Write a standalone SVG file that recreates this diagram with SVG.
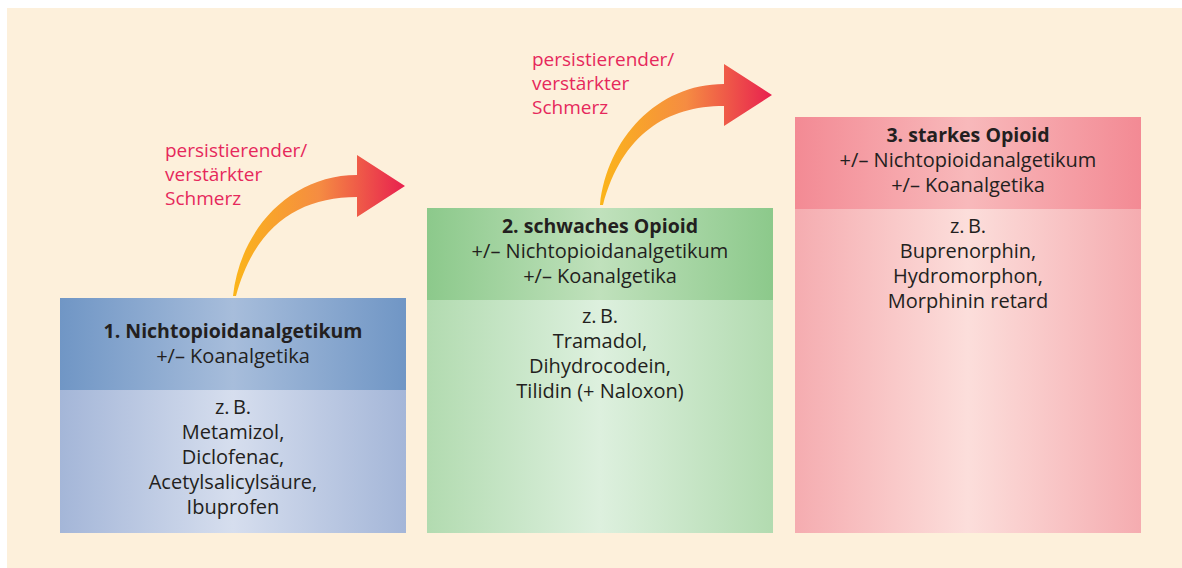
<svg xmlns="http://www.w3.org/2000/svg" width="1182" height="568" viewBox="0 0 1182 568">
<defs>
<style>
text{font-family:"Open Sans","Noto Sans","Liberation Sans",sans-serif;font-size:20px;fill:#231f20;text-anchor:middle}
.b{font-weight:bold;font-size:19.5px}
.lbl{fill:#e6285b;text-anchor:start;font-size:19px}
</style>
<linearGradient id="h1" x1="0" y1="0" x2="1" y2="0"><stop offset="0" stop-color="#7096c5"/><stop offset="0.5" stop-color="#a7bddb"/><stop offset="1" stop-color="#7096c5"/></linearGradient>
<linearGradient id="b1" x1="0" y1="0" x2="1" y2="0"><stop offset="0" stop-color="#a4b6d8"/><stop offset="0.5" stop-color="#d6deee"/><stop offset="1" stop-color="#a4b6d8"/></linearGradient>
<linearGradient id="h2" x1="0" y1="0" x2="1" y2="0"><stop offset="0" stop-color="#8cc98b"/><stop offset="0.5" stop-color="#c0e1bc"/><stop offset="1" stop-color="#8cc98b"/></linearGradient>
<linearGradient id="b2" x1="0" y1="0" x2="1" y2="0"><stop offset="0" stop-color="#b2dbb0"/><stop offset="0.5" stop-color="#ddf0de"/><stop offset="1" stop-color="#b2dbb0"/></linearGradient>
<linearGradient id="h3" x1="0" y1="0" x2="1" y2="0"><stop offset="0" stop-color="#f38a94"/><stop offset="0.5" stop-color="#f8b9bb"/><stop offset="1" stop-color="#f38a94"/></linearGradient>
<linearGradient id="b3" x1="0" y1="0" x2="1" y2="0"><stop offset="0" stop-color="#f5acb0"/><stop offset="0.5" stop-color="#fcdedb"/><stop offset="1" stop-color="#f5acb0"/></linearGradient>
<linearGradient id="ag" x1="0" y1="0" x2="1" y2="0"><stop offset="0" stop-color="#fbb51a"/><stop offset="0.5" stop-color="#f58c42"/><stop offset="1" stop-color="#e8204f"/></linearGradient>
<path id="arrow" d="M233,296 C240,230 290,175 357,175 L357,155 L405,186 L357,217 L357,197 C300,197 255,225 236,296 Z"/>
</defs>
<rect x="7" y="8" width="1175" height="560" fill="#fdf0db"/>
<g id="connectors">
<use href="#arrow" fill="url(#ag)"/>
<use href="#arrow" fill="url(#ag)" transform="translate(367,-91)"/>
<text class="lbl" x="165" y="157">persistierender/</text>
<text class="lbl" x="165" y="181">verstärkter</text>
<text class="lbl" x="165" y="205">Schmerz</text>
<text class="lbl" x="532" y="66">persistierender/</text>
<text class="lbl" x="532" y="90">verstärkter</text>
<text class="lbl" x="532" y="114">Schmerz</text>
</g>
<g id="step1">
<rect x="60" y="390" width="346" height="143" fill="url(#b1)"/>
<rect x="60" y="298" width="346" height="92" fill="url(#h1)"/>
<text class="b" x="233" y="338">1. Nichtopioidanalgetikum</text>
<text x="233" y="363">+/– Koanalgetika</text>
<text x="233" y="414">z.&#8201;B.</text>
<text x="233" y="439">Metamizol,</text>
<text x="233" y="464">Diclofenac,</text>
<text x="233" y="489">Acetylsalicylsäure,</text>
<text x="233" y="514">Ibuprofen</text>
</g>
<g id="step2">
<rect x="427" y="300" width="346" height="233" fill="url(#b2)"/>
<rect x="427" y="208" width="346" height="92" fill="url(#h2)"/>
<text class="b" x="600" y="233">2. schwaches Opioid</text>
<text x="600" y="258">+/– Nichtopioidanalgetikum</text>
<text x="600" y="283">+/– Koanalgetika</text>
<text x="600" y="323">z.&#8201;B.</text>
<text x="600" y="348">Tramadol,</text>
<text x="600" y="373">Dihydrocodein,</text>
<text x="600" y="398">Tilidin (+ Naloxon)</text>
</g>
<g id="step3">
<rect x="795" y="209" width="346" height="324" fill="url(#b3)"/>
<rect x="795" y="117" width="346" height="92" fill="url(#h3)"/>
<text class="b" x="968" y="142">3. starkes Opioid</text>
<text x="968" y="167">+/– Nichtopioidanalgetikum</text>
<text x="968" y="192">+/– Koanalgetika</text>
<text x="968" y="233">z.&#8201;B.</text>
<text x="968" y="258">Buprenorphin,</text>
<text x="968" y="283">Hydromorphon,</text>
<text x="968" y="308">Morphinin retard</text>
</g>
</svg>
